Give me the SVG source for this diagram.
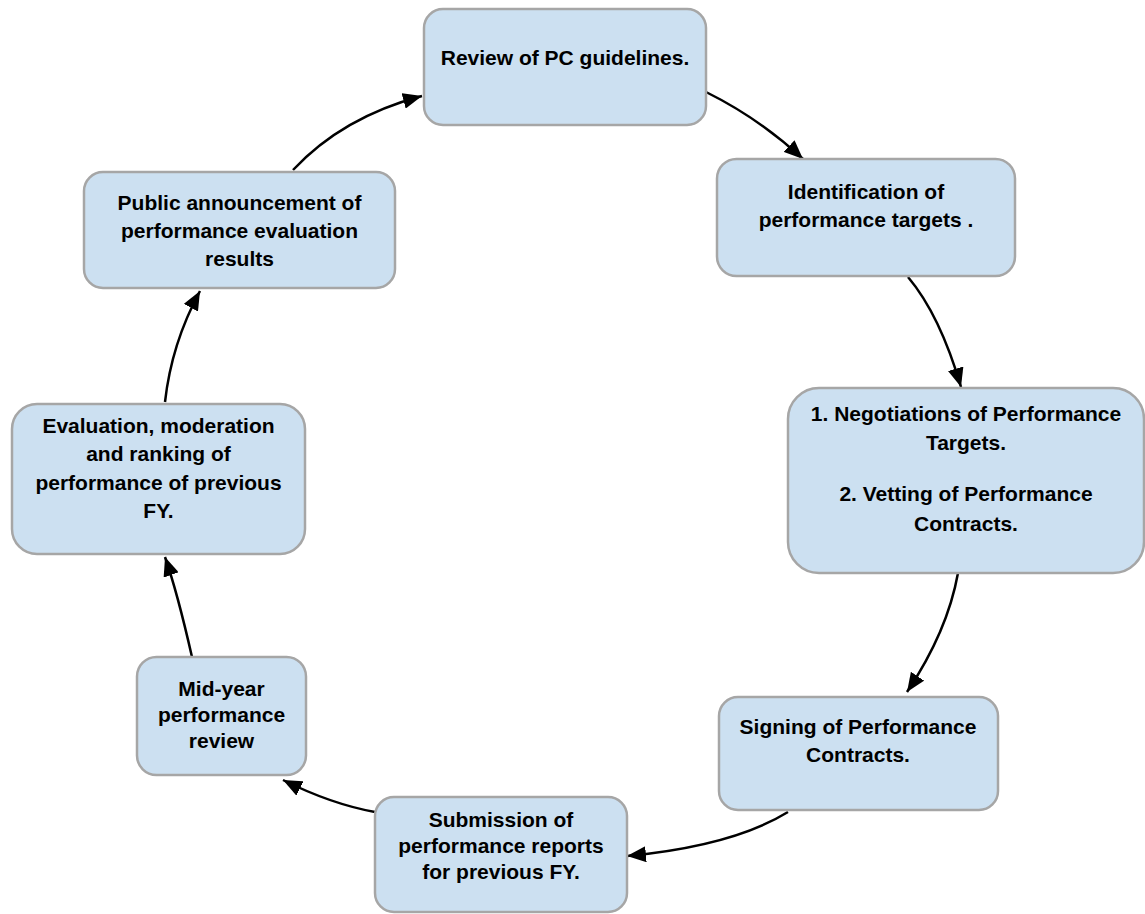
<svg xmlns="http://www.w3.org/2000/svg" width="1145" height="914" viewBox="0 0 1145 914">
<style>
.box{fill:#cce0f1;stroke:#a6a6a6;stroke-width:2.5}
.t{font-family:"Liberation Sans",Arial,sans-serif;font-weight:bold;font-size:21px;fill:#000;text-anchor:middle}
.c{fill:none;stroke:#000;stroke-width:2.5}
</style>
<defs>
<marker id="ah" markerUnits="userSpaceOnUse" markerWidth="20" markerHeight="16" refX="19" refY="8" orient="auto">
<path d="M0,0 L19,8 L0,16 z" fill="#000"/>
</marker>
</defs>
<rect width="1145" height="914" fill="#fff"/>
<g id="connectors">
<path class="c" marker-end="url(#ah)" d="M706,92 Q759.5,118.5 803,159"/>
<path class="c" marker-end="url(#ah)" d="M908,277 Q940,315 961,387"/>
<path class="c" marker-end="url(#ah)" d="M958,573 Q947.5,631.5 907,692"/>
<path class="c" marker-end="url(#ah)" d="M788,812 Q732.5,846 627,856"/>
<path class="c" marker-end="url(#ah)" d="M375,812 Q331,804 283,780"/>
<path class="c" marker-end="url(#ah)" d="M192,657 Q177.5,593 165,557"/>
<path class="c" marker-end="url(#ah)" d="M165,402 Q171.5,343.5 200,291"/>
<path class="c" marker-end="url(#ah)" d="M293,170 Q342.5,117 422,96"/>
</g>
<g id="n1">
<rect class="box" x="424" y="9" width="282" height="116" rx="19"/>
<text class="t" x="565" y="65">Review of PC guidelines.</text>
</g>
<g id="n2">
<rect class="box" x="717" y="159" width="298" height="117" rx="19.5"/>
<text class="t" x="866" y="199">Identification of</text>
<text class="t" x="866" y="227">performance targets .</text>
</g>
<g id="n3">
<rect class="box" x="788" y="388" width="356" height="185" rx="31"/>
<text class="t" x="966" y="421">1. Negotiations of Performance</text>
<text class="t" x="966" y="450">Targets.</text>
<text class="t" x="966" y="501">2. Vetting of Performance</text>
<text class="t" x="966" y="531">Contracts.</text>
</g>
<g id="n4">
<rect class="box" x="719" y="697" width="279" height="113" rx="19"/>
<text class="t" x="858" y="734">Signing of Performance</text>
<text class="t" x="858" y="762">Contracts.</text>
</g>
<g id="n5">
<rect class="box" x="375" y="797" width="252" height="115" rx="19"/>
<text class="t" x="501" y="827">Submission of</text>
<text class="t" x="501" y="853">performance reports</text>
<text class="t" x="501" y="879">for previous FY.</text>
</g>
<g id="n6">
<rect class="box" x="137" y="657" width="169" height="118" rx="19.5"/>
<text class="t" x="221.5" y="696">Mid-year</text>
<text class="t" x="221.5" y="722">performance</text>
<text class="t" x="221.5" y="748">review</text>
</g>
<g id="n7">
<rect class="box" x="12" y="404" width="293" height="150" rx="25"/>
<text class="t" x="158.5" y="433">Evaluation, moderation</text>
<text class="t" x="158.5" y="461">and ranking of</text>
<text class="t" x="158.5" y="490">performance of previous</text>
<text class="t" x="158.5" y="518">FY.</text>
</g>
<g id="n8">
<rect class="box" x="84" y="172" width="311" height="116" rx="19"/>
<text class="t" x="239.5" y="210">Public announcement of</text>
<text class="t" x="239.5" y="238">performance evaluation</text>
<text class="t" x="239.5" y="266">results</text>
</g>
</svg>
